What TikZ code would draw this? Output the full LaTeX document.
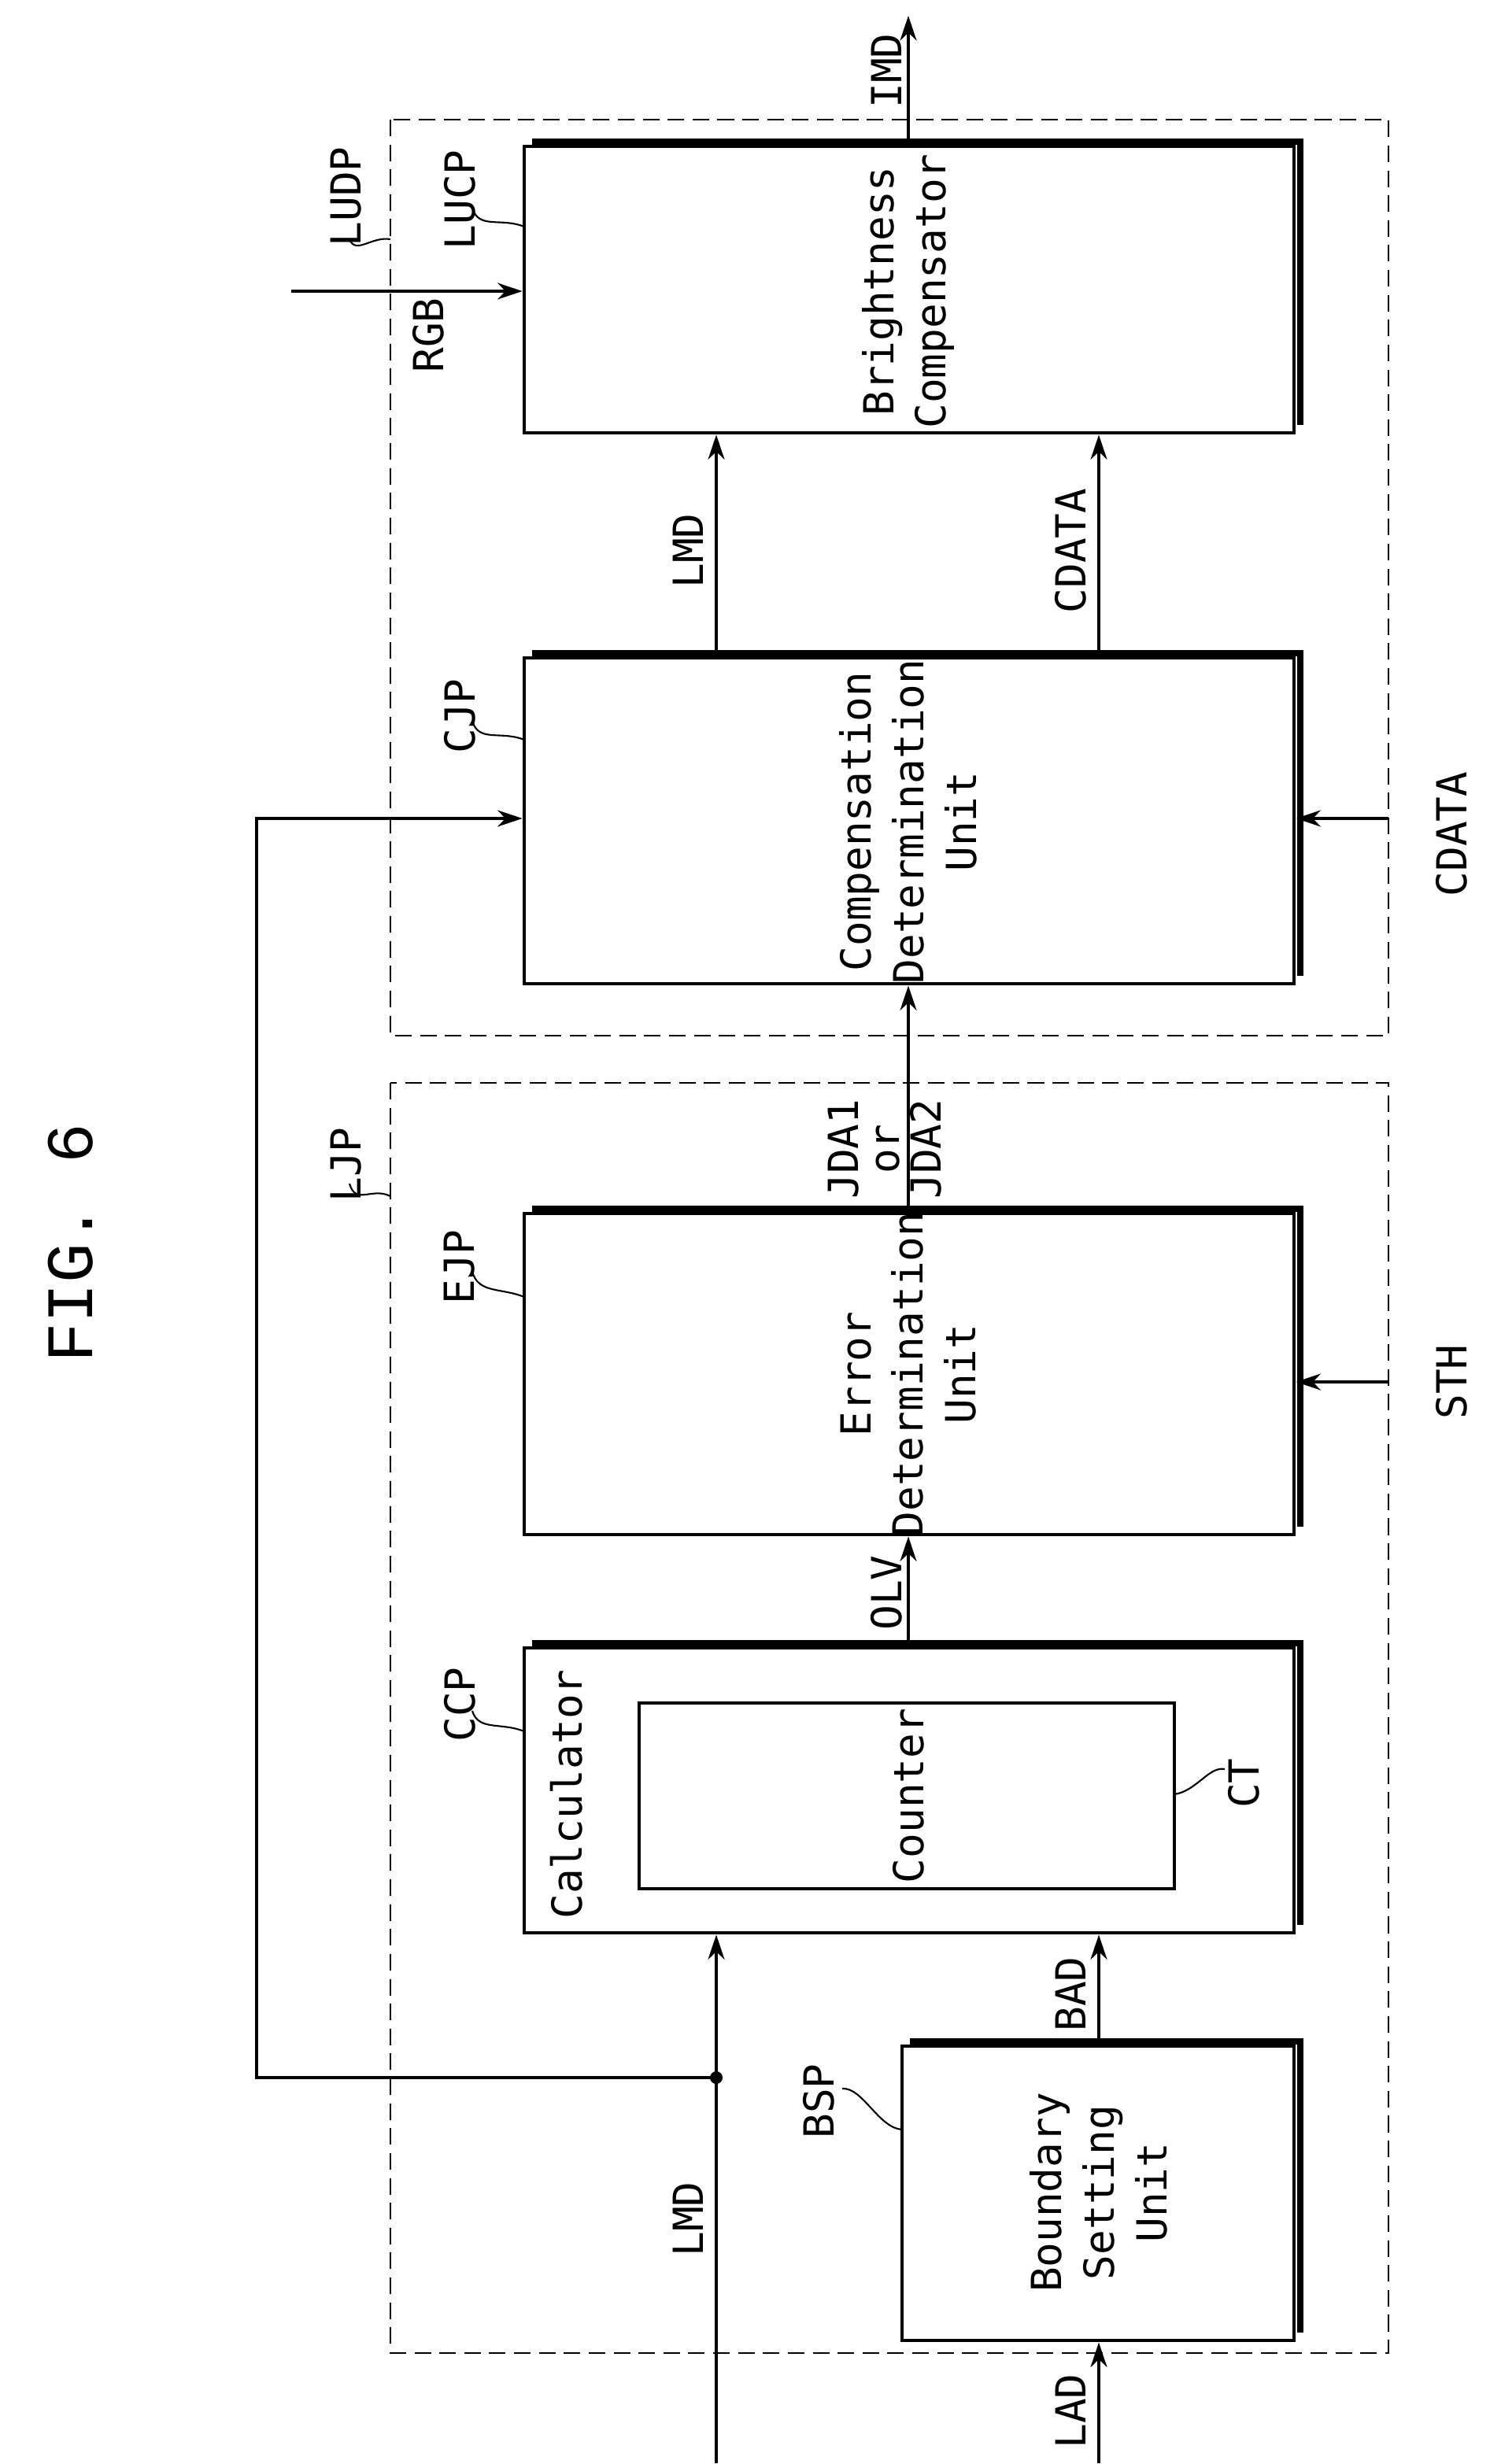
\documentclass[tikz,border=0pt]{standalone}
\usepackage{fontspec}
\setmainfont{DejaVu Sans Mono}
\newfontfamily\titlefont{Liberation Mono}
\usetikzlibrary{arrows.meta}
\begin{document}
\begin{tikzpicture}[x=0.02cm,y=-0.02cm,
  lab/.style={rotate=90,font=\fontsize{15}{17}\selectfont,inner sep=0pt},
  btxt/.style={rotate=90,font=\fontsize{15}{19}\selectfont,align=center,inner sep=0pt},
  blk/.style={draw,line width=1.4pt},
  grp/.style={draw,line width=0.6pt,dash pattern=on 6pt off 3pt},
  arr/.style={line width=1pt,-{Stealth[length=9pt,width=6pt]}},
  ln/.style={line width=1pt},
  ld/.style={line width=0.6pt}]
\useasboundingbox (0,0) rectangle (946.5,1565.5);
\node[rotate=90,font=\titlefont\fontsize{24}{26}\selectfont] (title) at (45,790) {FIG. 6};
% dashed groups
\draw[grp] (248,76) rectangle (882,658);
\draw[grp] (248,688) rectangle (882,1495);
% boxes
\newcommand{\shbox}[5]{%
  \node[blk,minimum width={(#4-#2)*0.02cm},minimum height={(#5-#3)*0.02cm},inner sep=0pt] (#1) at ({(#2+#4)/2},{(#3+#5)/2}) {};
  \draw[line width=2.4pt] ({#2+5},{#3-3}) -- ({#4+4},{#3-3}) -- ({#4+4},{#5-5});}
\shbox{bc}{333}{93}{822}{275}
\shbox{cjp}{333}{418}{822}{625}
\shbox{ejp}{333}{771}{822}{975}
\shbox{ccp}{333}{1047}{822}{1228}
\shbox{bsp}{573}{1300}{822}{1487}
\node[draw,line width=1pt,minimum width={340*0.02cm},minimum height={118*0.02cm},inner sep=0pt] (ct) at (576,1141) {};
\node[btxt] at (577,185) {Brightness\\Compensator};
\node[btxt] at (577,522) {Compensation\\Determination\\Unit};
\node[btxt] at (577,873) {Error\\Determination\\Unit};
\node[btxt] at (360,1140) {Calculator};
\node[btxt] at (577,1141) {Counter};
\node[btxt] at (698,1393) {Boundary\\Setting\\Unit};
% coordinates
\coordinate (imdE) at (577,10);
\coordinate (rgbS) at (185,185);
\coordinate (cdS) at (882,520);
\coordinate (sthS) at (882,878);
\coordinate (lmdS) at (455,1565);
\coordinate (ladS) at (698,1565);
\coordinate (jn) at (455,1320);
\coordinate (c1) at (163,1320);
\coordinate (c2) at (163,520);
% arrows
\draw[arr] (bc.north -| imdE) -- (imdE);
\draw[arr] (rgbS) -- (rgbS -| bc.west);
\draw[arr] (cjp.north -| 455,0) -- (bc.south -| 455,0);
\draw[arr] (cjp.north -| 698,0) -- (bc.south -| 698,0);
\draw[arr] (ejp.north -| 577,0) -- (cjp.south -| 577,0);
\draw[arr] (cdS) -- (cdS -| cjp.east);
\draw[arr] (sthS) -- (sthS -| ejp.east);
\draw[arr] (ccp.north -| 577,0) -- (ejp.south -| 577,0);
\draw[arr] (lmdS) -- (ccp.south -| lmdS);
\draw[arr] (ladS) -- (bsp.south -| ladS);
\draw[arr] (bsp.north -| 698,0) -- (ccp.south -| 698,0);
\draw[arr] (jn) -- (c1) -- (c2) -- (c2 -| cjp.west);
\fill (jn) circle (4);
% labels
\node[lab] at (563,45) {IMD};
\node[lab] at (272,213) {RGB};
\node[lab] at (437,350) {LMD};
\node[lab] at (680,350) {CDATA};
\node[lab,align=center,font=\fontsize{15}{15}\selectfont] at (562,730) {JDA1\\or\\JDA2};
\node[lab] at (922,530) {CDATA};
\node[lab] at (922,878) {STH};
\node[lab] at (563,1012) {OLV};
\node[lab] at (680,1267) {BAD};
\node[lab] at (437,1410) {LMD};
\node[lab] at (680,1532) {LAD};
\node[lab] at (220,125) {LUDP};
\node[lab] at (292,127) {LUCP};
\node[lab] at (292,455) {CJP};
\node[lab] at (220,740) {LJP};
\node[lab] at (292,805) {EJP};
\node[lab] at (292,1083) {CCP};
\node[lab] at (790,1133) {CT};
\node[lab] at (520,1335) {BSP};
% leaders
\draw[ld] (222,152) .. controls (226,162) and (236,150) .. (248,152);
\draw[ld] (300,132) .. controls (304,146) and (318,138) .. (333,144);
\draw[ld] (300,458) .. controls (304,472) and (318,464) .. (333,470);
\draw[ld] (222,752) .. controls (226,766) and (236,754) .. (248,760);
\draw[ld] (300,808) .. controls (304,822) and (318,818) .. (333,824);
\draw[ld] (300,1087) .. controls (304,1100) and (318,1094) .. (333,1100);
\draw[ld] (746,1140) .. controls (760,1138) and (768,1122) .. (778,1124);
\draw[ld] (535,1327) .. controls (548,1326) and (558,1352) .. (573,1353);
\end{tikzpicture}
\end{document}
